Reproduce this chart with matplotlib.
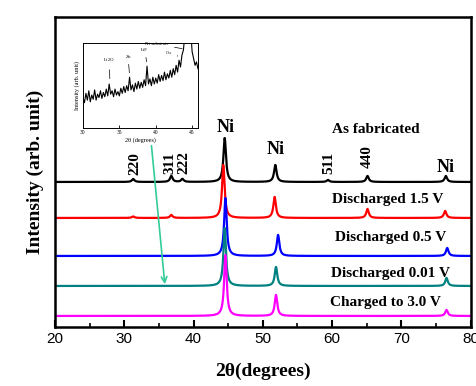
import numpy as np
import matplotlib.pyplot as plt

# ---- data ----
# main XRD patterns: baseline offset + peaks (position in 2theta, height)
labels = ["As fabricated", "Discharged 1.5 V", "Discharged 0.5 V",
          "Discharged 0.01 V", "Charged to 3.0 V"]
colors = ["black", "#ff0000", "#0000ff", "#008080", "#ff00ff"]
offsets = [145, 109, 71, 41, 11]

peaks_fab = [(31.3, 3), (36.8, 6), (38.4, 3), (44.5, 44), (51.8, 17),
             (59.4, 2), (65.1, 6), (76.4, 6)]
peaks_d15 = [(31.3, 1.5), (36.8, 3), (44.3, 53), (51.7, 21), (65.1, 9), (76.3, 7)]
peaks_d05 = [(44.6, 58), (52.2, 21), (76.6, 8)]
peaks_d001 = [(44.5, 58), (51.9, 19), (76.5, 8)]
peaks_c30 = [(44.6, 61), (51.9, 21), (76.5, 6)]
all_peaks = [peaks_fab, peaks_d15, peaks_d05, peaks_d001, peaks_c30]

# inset: low-angle scan of the discharged electrode
inset_x = np.arange(30.0, 45.81, 0.2)
inset_y = [36, 30, 41, 33, 44, 31, 39, 34, 45, 33,
           40, 36, 44, 35, 42, 37, 46, 38, 52, 40,
           44, 37, 46, 39, 43, 38, 47, 41, 49, 42,
           50, 44, 60, 45, 51, 43, 53, 46, 55, 47,
           54, 48, 57, 50, 73, 52, 58, 50, 60, 52,
           59, 53, 63, 55, 62, 56, 66, 57, 64, 59,
           68, 60, 70, 63, 74, 66, 80, 72, 86, 92,
           110, 130, 150, 140, 115, 90, 82, 74, 78, 70]
inset_notes = [("Li$_2$O", 33.6, 80, 33.7, 55),
               ("Zn", 36.2, 84, 36.4, 62),
               ("LiF", 38.5, 92, 38.8, 75),
               ("Ni substrate", 40.2, 99, 44.0, 93),
               ("Cu", 41.8, 88, 43.4, 84)]

ticks_main = [20, 30, 40, 50, 60, 70, 80]


def pattern(x, peaks, w=0.22):
    y = np.zeros_like(x)
    for pos, h in peaks:
        y += h / (1 + ((x - pos) / w) ** 2)
    return y


x = np.linspace(20, 80, 3000)

fig = plt.figure(figsize=(4.77, 3.86), dpi=100)
ax = fig.add_axes([0.115, 0.153, 0.872, 0.803])

for pk, off, c in zip(all_peaks, offsets, colors):
    ax.plot(x, off + pattern(x, pk), color=c, lw=1.6)

serif = dict(family="Liberation Serif", weight="bold")
ax.text(66.3, 197, labels[0], ha="center", va="center", fontsize=11, **serif)
ax.text(68.0, 127, labels[1], ha="center", va="center", fontsize=11, **serif)
ax.text(68.4, 89, labels[2], ha="center", va="center", fontsize=11, **serif)
ax.text(68.4, 53, labels[3], ha="center", va="center", fontsize=11, **serif)
ax.text(67.7, 24, labels[4], ha="center", va="center", fontsize=11, **serif)

for xx, yy in [(44.7, 199), (51.8, 177), (76.4, 159)]:
    ax.text(xx, yy, "Ni", ha="center", va="center", fontsize=13, **serif)
for txt, xx, yy in [("220", 31.6, 163), ("311", 36.6, 164), ("222", 38.6, 164),
                    ("511", 59.5, 164), ("440", 65.1, 170)]:
    ax.text(xx, yy, txt, ha="center", va="center", rotation=90, fontsize=11, **serif)

ax.annotate("", xy=(35.9, 40), xytext=(33.9, 184),
            arrowprops=dict(arrowstyle="->", color="#33cc99", lw=1.2))

ax.set_xlim(20, 80)
ax.set_ylim(0, 310)
ax.set_xticks(ticks_main)
ax.set_xticks(np.arange(25, 80, 10), minor=True)
ax.set_yticks([])
ax.tick_params(axis="x", which="major", direction="in", length=5, width=1.5,
               labelsize=11, pad=4)
ax.tick_params(axis="x", which="minor", direction="in", length=3, width=1.2)
for lab in ax.get_xticklabels():
    lab.set_family("Liberation Sans")
for s in ax.spines.values():
    s.set_linewidth(1.8)
ax.set_xlabel("2θ(degrees)", fontsize=14, labelpad=12, **serif)
ax.set_ylabel("Intensity (arb. unit)", fontsize=14, labelpad=8, **serif)

# ---- inset ----
ins = fig.add_axes([0.174, 0.668, 0.241, 0.220])
ins.plot(inset_x, inset_y, color="black", lw=0.8)
ins.set_xlim(30, 45.8)
ins.set_ylim(0, 100)
ins.set_xticks([30, 35, 40, 45])
ins.set_yticks([])
ins.tick_params(axis="x", direction="in", length=2, width=0.6, labelsize=4, pad=1.5)
for lab in ins.get_xticklabels():
    lab.set_family("Liberation Serif")
for s in ins.spines.values():
    s.set_linewidth(0.7)
ins.set_xlabel("2θ (degrees)", fontsize=4.5, labelpad=1.5, family="Liberation Serif")
ins.set_ylabel("Intensity (arb. unit)", fontsize=4.5, labelpad=2, family="Liberation Serif")
for txt, tx, ty, px, py in inset_notes:
    ins.annotate(txt, xy=(px, py), xytext=(tx, ty), fontsize=3.5,
                 family="Liberation Serif", ha="center", va="center",
                 arrowprops=dict(arrowstyle="-", lw=0.5, color="black"))

fig.savefig("out.png", dpi=100)
